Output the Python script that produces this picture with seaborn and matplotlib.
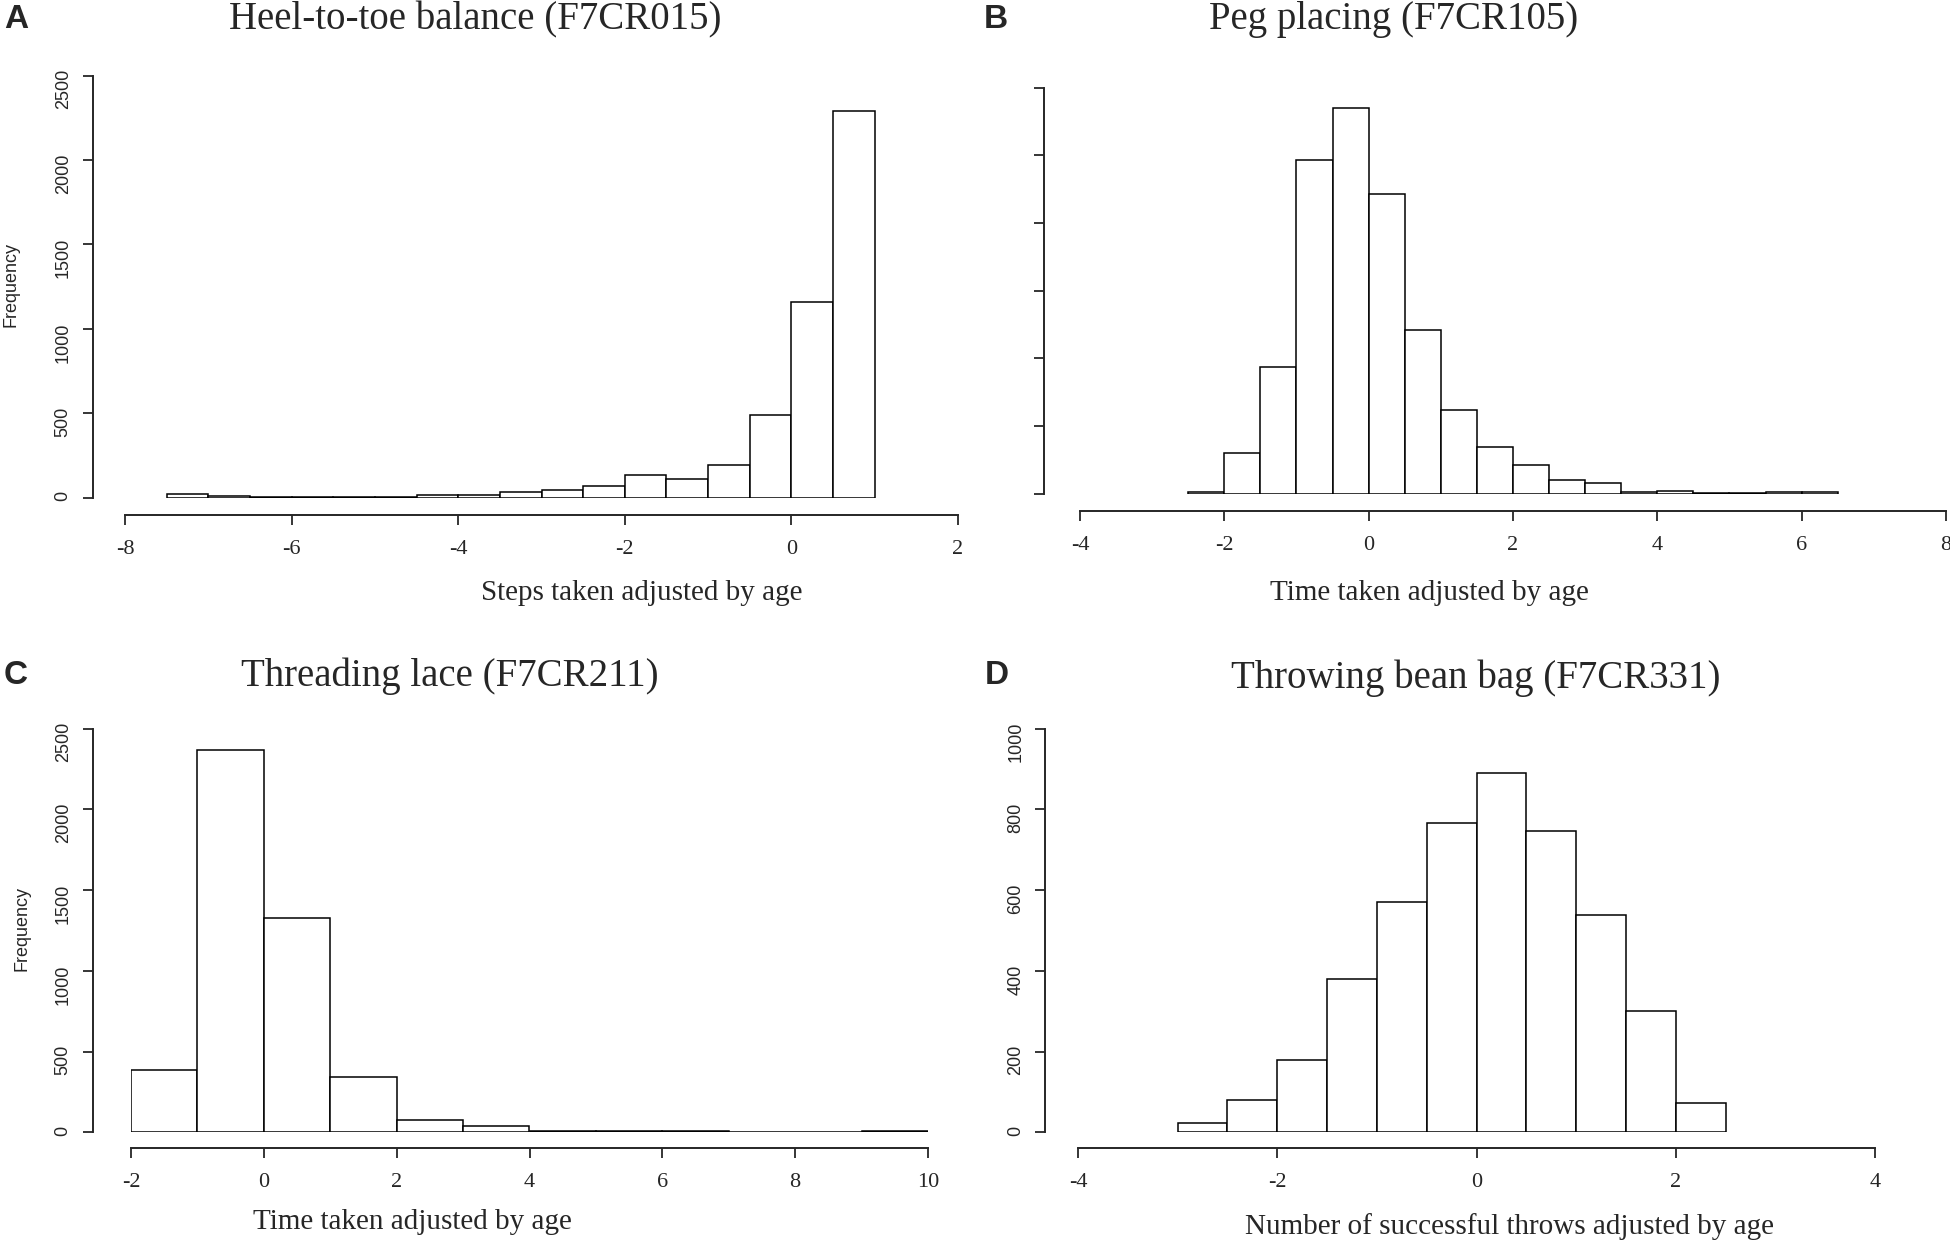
import numpy as np
import matplotlib.pyplot as plt
import seaborn as sns

# bin edges and counts
heel_edges = [-7.5, -7, -6.5, -6, -5.5, -5, -4.5, -4, -3.5, -3, -2.5, -2, -1.5, -1, -0.5, 0, 0.5, 1]
heel_counts = [22, 8, 2, 5, 5, 5, 16, 17, 31, 44, 71, 131, 109, 194, 490, 1160, 2292]

peg_edges = [-2.5, -2, -1.5, -1, -0.5, 0, 0.5, 1, 1.5, 2, 2.5, 3, 3.5, 4, 4.5, 5, 5.5, 6, 6.5]
peg_counts = [5, 121, 374, 986, 1139, 885, 482, 247, 137, 85, 40, 32, 5, 6, 2, 1, 3, 3]

lace_edges = [-2, -1, 0, 1, 2, 3, 4, 5, 6, 7, 8, 9, 10]
lace_counts = [389, 2369, 1330, 345, 79, 37, 7, 7, 7, 1, 1, 7]

bean_edges = [-3, -2.5, -2, -1.5, -1, -0.5, 0, 0.5, 1, 1.5, 2, 2.5]
bean_counts = [24, 80, 179, 379, 570, 767, 891, 747, 539, 300, 74]

titles = ['Heel-to-toe balance (F7CR015)', 'Peg placing (F7CR105)',
          'Threading lace (F7CR211)', 'Throwing bean bag (F7CR331)']
xlabels = ['Steps taken adjusted by age', 'Time taken adjusted by age',
           'Time taken adjusted by age', 'Number of successful throws adjusted by age']
letters = ['A', 'B', 'C', 'D']
xticks = [[-8, -6, -4, -2, 0, 2], [-4, -2, 0, 2, 4, 6, 8],
          [-2, 0, 2, 4, 6, 8, 10], [-4, -2, 0, 2, 4]]
yticks = [[0, 500, 1000, 1500, 2000, 2500], [0, 200, 400, 600, 800, 1000, 1200],
          [0, 500, 1000, 1500, 2000, 2500], [0, 200, 400, 600, 800, 1000]]

sns.set_style("ticks")
serif = ['Liberation Serif', 'DejaVu Serif']
sans = ['Liberation Sans', 'DejaVu Sans']
plt.rcParams['font.family'] = serif
plt.rcParams['axes.unicode_minus'] = False

W, H = 1950, 1242
fig = plt.figure(figsize=(W / 100, H / 100), dpi=100)

# pixel layout: (x_left, x_right, y_top, y_bottom) of data area, spine offsets (px)
boxes = [(125, 958, 75.6, 497.5), (1080, 1946, 87.6, 493.5),
         (131, 928, 728.5, 1132.4), (1078, 1875, 728.5, 1132.4)]
offsets = [(32.5, 17), (36, 17), (38.5, 16), (33, 16)]
title_px = [(475, 20), (1394, 20), (450, 676), (1476, 678)]
xlabel_pos = [(0.62, -0.226), (0.404, -0.245), (0.353, -0.222), (0.541, -0.232)]
letter_pos = [(16, 19), (996, 19), (16, 675), (997, 675)]

data = [(heel_edges, heel_counts), (peg_edges, peg_counts),
        (lace_edges, lace_counts), (bean_edges, bean_counts)]

for i, (edges, counts) in enumerate(data):
    x0, x1, yt, yb = boxes[i]
    ax = fig.add_axes([x0 / W, 1 - yb / H, (x1 - x0) / W, (yb - yt) / H])
    sns.histplot(x=edges[:-1], weights=counts, bins=edges, ax=ax,
                 color='white', edgecolor='black', linewidth=1.1, alpha=1)
    ax.set_xlim(xticks[i][0], xticks[i][-1])
    ax.set_ylim(yticks[i][0], yticks[i][-1])
    ax.set_xticks(xticks[i])
    ax.set_yticks(yticks[i])
    ax.tick_params(axis='x', length=7, width=1.3, pad=11, direction='out',
                   labelsize=16, labelfontfamily=serif)
    ax.tick_params(axis='y', length=7, width=1.3, pad=8, direction='out',
                   labelsize=13, labelfontfamily=sans, labelrotation=90)
    if i == 1:
        ax.set_yticklabels([])
    lo, bo = offsets[i]
    sns.despine(ax=ax, offset={'left': lo * 0.72, 'bottom': bo * 0.72})
    ax.spines['left'].set_bounds(yticks[i][0], yticks[i][-1])
    ax.spines['bottom'].set_bounds(xticks[i][0], xticks[i][-1])
    for s in ('left', 'bottom'):
        ax.spines[s].set_linewidth(1.4)

    ax.set_xlabel(xlabels[i], fontsize=21, family=serif)
    ax.xaxis.set_label_coords(*xlabel_pos[i])
    ax.xaxis.label.set_va('center')
    if i in (0, 2):
        ax.set_ylabel('Frequency', fontsize=13, family=sans)
        ax.yaxis.set_label_coords(-0.137, 0.506)
        ax.yaxis.label.set_va('center')
    else:
        ax.set_ylabel('')

    tx, ty = title_px[i]
    fig.text(tx / W, 1 - ty / H, titles[i], fontsize=28, family=serif,
             ha='center', va='center')
    lx, ly = letter_pos[i]
    fig.text(lx / W, 1 - ly / H, letters[i], fontsize=24, fontweight='bold',
             family=sans, ha='center', va='center')

fig.savefig('out.png', dpi=100)
